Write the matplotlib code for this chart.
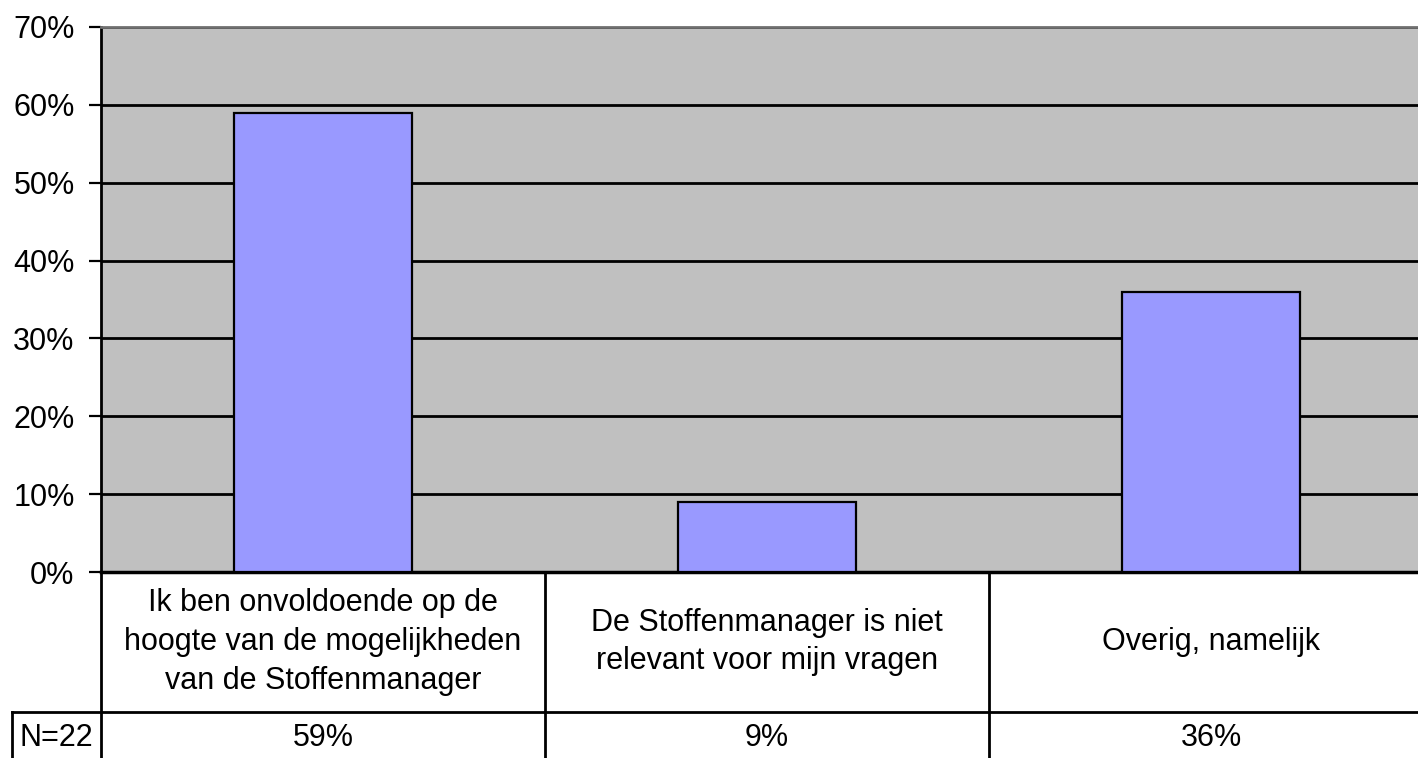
import numpy as np
import matplotlib
matplotlib.use("Agg")
import matplotlib.pyplot as plt
from matplotlib.ticker import PercentFormatter

# data
categories = [
    "Ik ben onvoldoende op de\nhoogte van de mogelijkheden\nvan de Stoffenmanager",
    "De Stoffenmanager is niet\nrelevant voor mijn vragen",
    "Overig, namelijk",
]
values = [59, 9, 36]
value_labels = ["59%", "9%", "36%"]
n_label = "N=22"
yticks = [0, 10, 20, 30, 40, 50, 60, 70]

plt.rcParams["font.family"] = ["Liberation Sans", "DejaVu Sans"]
fs = 22

W, H = 1418, 758
fig = plt.figure(figsize=(W / 100, H / 100), dpi=100)
fig.patch.set_facecolor("white")

# plot area (pixel layout of the reference)
left, right, top, zero = 101, 1418, 27, 572
ax = fig.add_axes([left / W, (H - zero) / H, (right - left) / W, (zero - top) / H])
ax.set_facecolor("#C0C0C0")

x = np.arange(len(categories))
ax.bar(x, values, width=0.4, color="#9999FF", edgecolor="black", linewidth=1.6, zorder=3)

ax.set_xlim(-0.5, -0.5 + (right - left) / 444)
ax.set_ylim(0, 70)
ax.set_yticks(yticks)
ax.yaxis.set_major_formatter(PercentFormatter(decimals=0))
ax.tick_params(axis="y", labelsize=fs, length=9, width=1.6, direction="out", pad=10)
ax.set_xticks([])
ax.grid(axis="y", color="black", linewidth=2, zorder=1)
ax.set_axisbelow(True)
ax.spines["right"].set_visible(False)
ax.spines["top"].set_color("#707070")
ax.spines["top"].set_linewidth(2)
ax.spines["left"].set_linewidth(2)
ax.spines["bottom"].set_linewidth(2.5)

# data table below the chart
row1, row2 = 140, 186
tab = fig.add_axes([left / W, 0, (right - left) / W, row2 / H], sharex=ax)
tab.set_ylim(row2, 0)
tab.axis("off")
lw = 2
tab.plot([-0.5, -0.5], [0, row2], color="black", lw=lw, clip_on=False)
nx = -0.5 - (left - 12) / 444
tab.plot([nx, 2.5], [row1, row1], color="black", lw=lw, clip_on=False)
tab.plot([nx, nx], [row1, row2 + 5], color="black", lw=lw, clip_on=False)
for b in x[:-1] + 0.5:
    tab.plot([b, b], [0, row2], color="black", lw=lw, clip_on=False)
for xi, cat, vl in zip(x, categories, value_labels):
    tab.text(xi, row1 / 2, cat, ha="center", va="center", fontsize=fs,
             linespacing=1.38, clip_on=False)
    tab.text(xi, row1 + 26, vl, ha="center", va="center", fontsize=fs, clip_on=False)
tab.text((nx - 0.5) / 2, row1 + 26, n_label, ha="center", va="center", fontsize=fs,
         clip_on=False)

fig.savefig("out.png", dpi=100)
